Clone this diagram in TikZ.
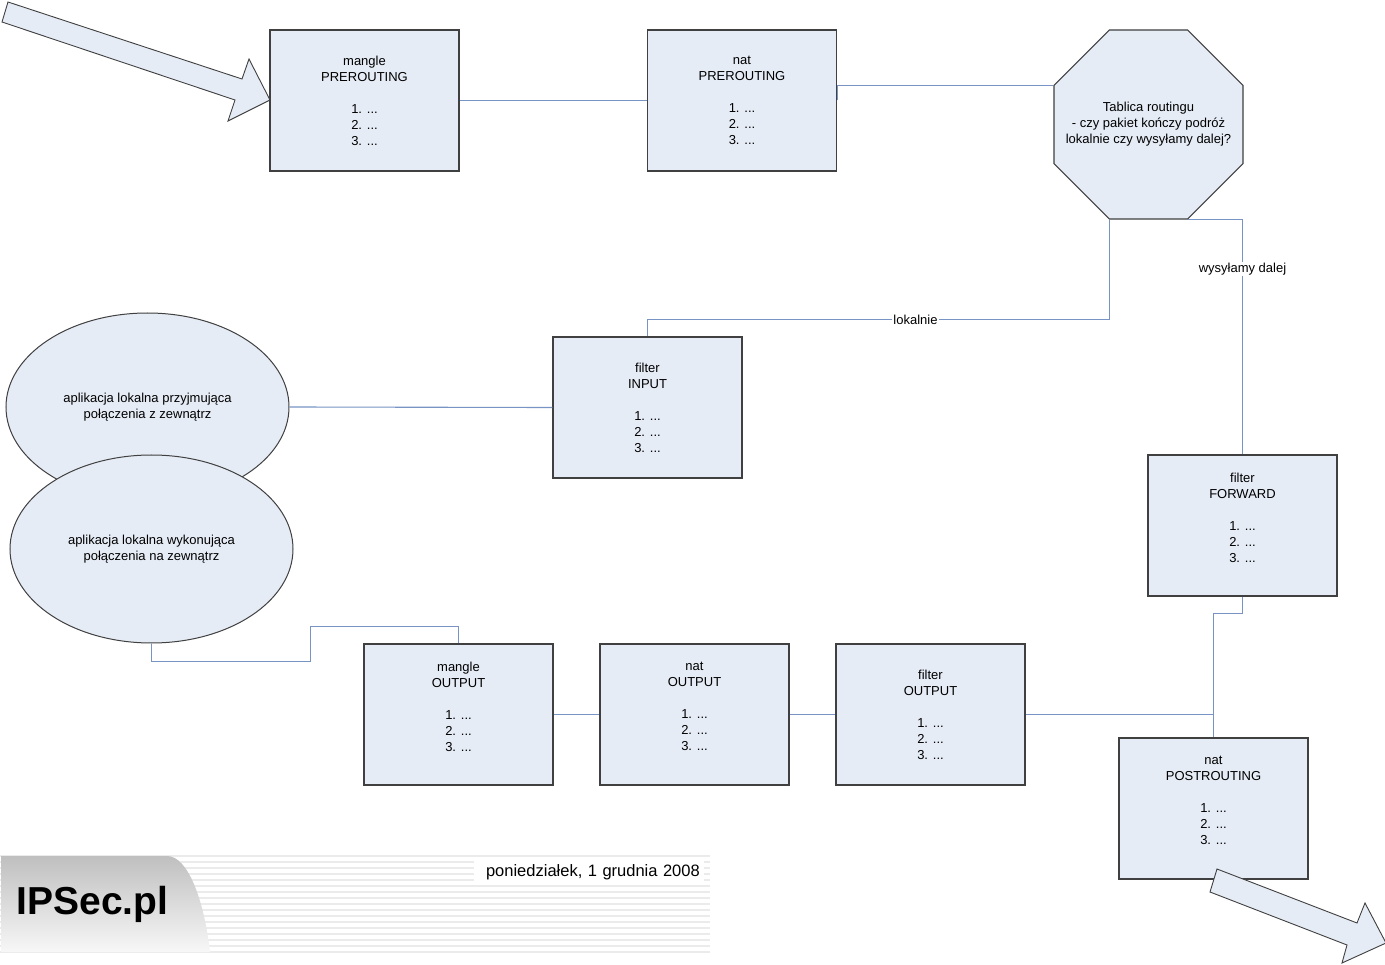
\documentclass[tikz,border=0pt]{standalone}
\usepackage{fontspec}
\setmainfont{Liberation Sans}
\usetikzlibrary{shapes.geometric, calc}

\definecolor{boxfill}{RGB}{230,236,246}
\definecolor{boxline}{RGB}{64,64,64}
\definecolor{linkblue}{RGB}{120,148,196}
\definecolor{stripegray}{RGB}{235,235,235}

\begin{document}
\begin{tikzpicture}[x=1pt, y=-1pt]
	\tikzstyle{every node} = [font=\fontsize{13}{16}\selectfont, align=center]
	\tikzstyle{chainbox} = [draw=boxline, line width=1.1pt, fill=boxfill, rectangle, inner sep=0pt, minimum width=189pt, minimum height=141pt]
	\tikzstyle{appl} = [draw=boxline, line width=1pt, fill=boxfill, ellipse, inner sep=0pt, minimum width=283pt, minimum height=188pt]
	\tikzstyle{link} = [draw=linkblue, line width=1.1pt]
	\tikzstyle{linklabel} = [fill=white, inner sep=1pt]
	\tikzstyle{fatarrow} = [draw=boxline, line width=0.9pt, fill=boxfill, line join=miter]
	\useasboundingbox (0,0) rectangle (1385,965);
	\fill[white] (0,0) rectangle (1385,965);

	% footer
	\foreach \y in {856,862,...,952} \draw[stripegray, line width=1.6pt] (0,\y) -- (710,\y);
	\shade[top color=black!25, bottom color=black!3] (1,856) -- (167,856) .. controls (188,856) and (204,900) .. (210,952) -- (1,952) -- cycle;
	\node[font=\bfseries\fontsize{39}{40}\selectfont, anchor=west] (logo) at (13,904) {IPSec.pl};
	\node[font=\fontsize{16.5}{18}\selectfont, fill=white, anchor=east, text width=222pt, align=right, inner xsep=4pt, inner ysep=0pt, minimum height=24pt] (data) at (704,872) {poniedziałek, 1 grudnia 2008};

	% tables
	\node[chainbox] (mpre) at (364.5,100.5) {mangle\\PREROUTING\\[16pt]1. ...\\2. ...\\3. ...};
	\node[chainbox] (npre) at (742,100.5) {nat\\PREROUTING\\[16pt]1. ...\\2. ...\\3. ...};
	\node[draw=boxline, line width=1.1pt, fill=boxfill, regular polygon, regular polygon sides=8, minimum size=204.6pt, inner sep=0pt] (tablica) at (1148.5,124.5) {};
	\node (tabtext) at (tablica.center) {Tablica routingu\\- czy pakiet kończy podróż\\lokalnie czy wysyłamy dalej?};
	\node[chainbox] (finp) at (647.5,407.5) {filter\\INPUT\\[16pt]1. ...\\2. ...\\3. ...};
	\node[chainbox] (ffwd) at (1242.5,525.5) {filter\\FORWARD\\[16pt]1. ...\\2. ...\\3. ...\\~};
	\node[chainbox] (mout) at (458.5,714.5) {mangle\\OUTPUT\\[16pt]1. ...\\2. ...\\3. ...\\~};
	\node[chainbox] (nout) at (694.5,714.5) {nat\\OUTPUT\\[16pt]1. ...\\2. ...\\3. ...\\~};
	\node[chainbox] (fout) at (930.5,714.5) {filter\\OUTPUT\\[16pt]1. ...\\2. ...\\3. ...};
	\node[chainbox] (npost) at (1213.5,808.5) {nat\\POSTROUTING\\[16pt]1. ...\\2. ...\\3. ...\\~};
	\node[appl] (app1) at (147.5,407) {aplikacja lokalna przyjmująca\\połączenia z zewnątrz};
	\node[appl] (app2) at (151.5,549) {aplikacja lokalna wykonująca\\połączenia na zewnątrz};

	\coordinate (tabnw) at ($(tablica.west)+(0,-39)$); \coordinate (tabsw) at ($(tablica.south)+(-39,0)$); \coordinate (tabse) at ($(tablica.south)+(39,0)$);

	% links
	\draw[link] (mpre.east) -- (npre.west);
	\draw[link] (npre.east) |- (tabnw);
	\draw[link] (tabsw) -- ++(0,100) -| node[linklabel, pos=0.21] {lokalnie} (finp.north);
	\draw[link] (tabse) -| node[linklabel, pos=0.605] {wysyłamy dalej} (ffwd.north);
	\draw[link] (finp.west) -- (app1.east);
	\draw[link] (app2.south) -- ++(0,18) -| ++(159,-35) -| (mout.north);
	\draw[link] (mout.east) -- (nout.west); \draw[link] (nout.east) -- (fout.west);
	\draw[link] (fout.east) -| (npost.north);
	\draw[link] (ffwd.south) -- ++(0,17) -| (npost.north);

	% in / out arrows
	\draw[fatarrow] (8,2) -- (242,79) -- (249,59) -- (270,100) -- (228,121) -- (235,100) -- (2,22) -- cycle;
	\draw[fatarrow] (1217,869) -- (1357,923) -- (1365,903) -- (1386,943) -- (1342,963) -- (1347,945) -- (1210,892) -- cycle;
\end{tikzpicture}
\end{document}
